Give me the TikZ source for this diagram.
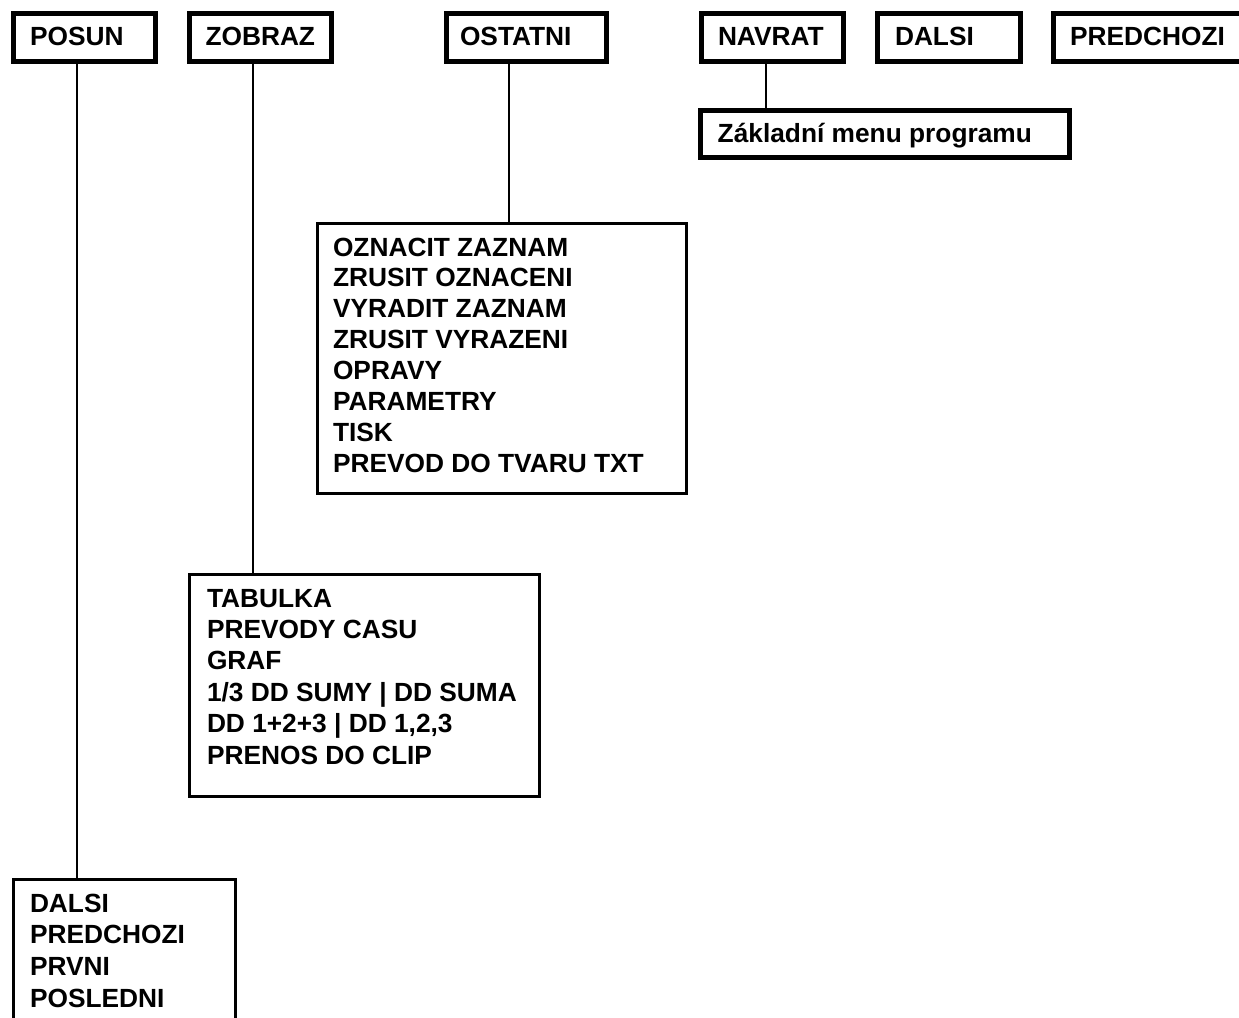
\documentclass[tikz,border=0pt]{standalone}
\usepackage{fontspec}
\setmainfont{Liberation Sans}
\begin{document}
\begin{tikzpicture}[x=1pt,y=-1pt,
  thickbox/.style={draw, line width=5pt, inner sep=0pt, outer sep=0pt, anchor=north west},
  thinbox/.style={draw, line width=2.8pt, inner sep=0pt, outer sep=0pt, anchor=north west},
  lbl/.style={anchor=base west, inner sep=0pt, outer sep=0pt, font=\fontsize{26.3}{31}\selectfont\bfseries},
  conn/.style={line width=2.2pt}]
\useasboundingbox (0,0) rectangle (1239,1017);
\fill[white] (0,0) rectangle (1239,1017);
\clip (0,0) rectangle (1239,1017);

% top menu boxes
\node[thickbox, minimum width=142pt, minimum height=48pt] (posun) at (13.5,13.5) {};
\node[lbl] (posunT) at (30,45.5) {POSUN};
\node[thickbox, minimum width=142.5pt, minimum height=48pt] (zobraz) at (189,13.5) {};
\node[lbl] (zobrazT) at (205.5,45.5) {ZOBRAZ};
\node[thickbox, minimum width=160pt, minimum height=48pt] (ostatni) at (446,13.5) {};
\node[lbl] (ostatniT) at (460,45.5) {OSTATNI};
\node[thickbox, minimum width=142pt, minimum height=48pt] (navrat) at (701.5,13.5) {};
\node[lbl] (navratT) at (718,45.5) {NAVRAT};
\node[thickbox, minimum width=143pt, minimum height=48pt] (dalsi) at (877.5,13.5) {};
\node[lbl] (dalsiT) at (895,45.5) {DALSI};
\node[thickbox, minimum width=200pt, minimum height=48pt] (predchozi) at (1053.5,13.5) {};
\node[lbl] (predchoziT) at (1070,45.5) {PREDCHOZI};

% main menu box
\node[thickbox, minimum width=369pt, minimum height=47pt] (zakladni) at (700.5,110.5) {};
\node[lbl] (zakladniT) at (717.7,142) {Základní menu programu};

% submenu boxes
\node[thinbox, minimum width=369pt, minimum height=270pt] (ostatniSub) at (317.5,223.5) {};
\node[lbl] (ostatniSubT) at (333,256) {\vtop{\baselineskip=30.9pt\lineskiplimit=-100pt
  \hbox{OZNACIT ZAZNAM}\hbox{ZRUSIT OZNACENI}\hbox{VYRADIT ZAZNAM}\hbox{ZRUSIT VYRAZENI}
  \hbox{OPRAVY}\hbox{PARAMETRY}\hbox{TISK}\hbox{PREVOD DO TVARU TXT}}};

\node[thinbox, minimum width=350pt, minimum height=222pt] (zobrazSub) at (189.5,574.5) {};
\node[lbl] (zobrazSubT) at (207,607) {\vtop{\baselineskip=31.4pt\lineskiplimit=-100pt
  \hbox{TABULKA}\hbox{PREVODY CASU}\hbox{GRAF}\hbox{1/3 DD SUMY | DD SUMA}
  \hbox{DD 1+2+3 | DD 1,2,3}\hbox{PRENOS DO CLIP}}};

\node[thinbox, minimum width=222pt, minimum height=200pt] (posunSub) at (13.5,879.5) {};
\node[lbl] (posunSubT) at (30,912) {\vtop{\baselineskip=31.7pt\lineskiplimit=-100pt
  \hbox{DALSI}\hbox{PREDCHOZI}\hbox{PRVNI}\hbox{POSLEDNI}}};

% connectors
\draw[conn] ([xshift=-7.5pt]posun.south) -- ([xshift=-7.5pt]posun.south |- posunSub.north);
\draw[conn] ([xshift=-7.25pt]zobraz.south) -- ([xshift=-7.25pt]zobraz.south |- zobrazSub.north);
\draw[conn] ([xshift=-17pt]ostatni.south) -- ([xshift=-17pt]ostatni.south |- ostatniSub.north);
\draw[conn] ([xshift=-6.5pt]navrat.south) -- ([xshift=-6.5pt]navrat.south |- zakladni.north);
\end{tikzpicture}
\end{document}
